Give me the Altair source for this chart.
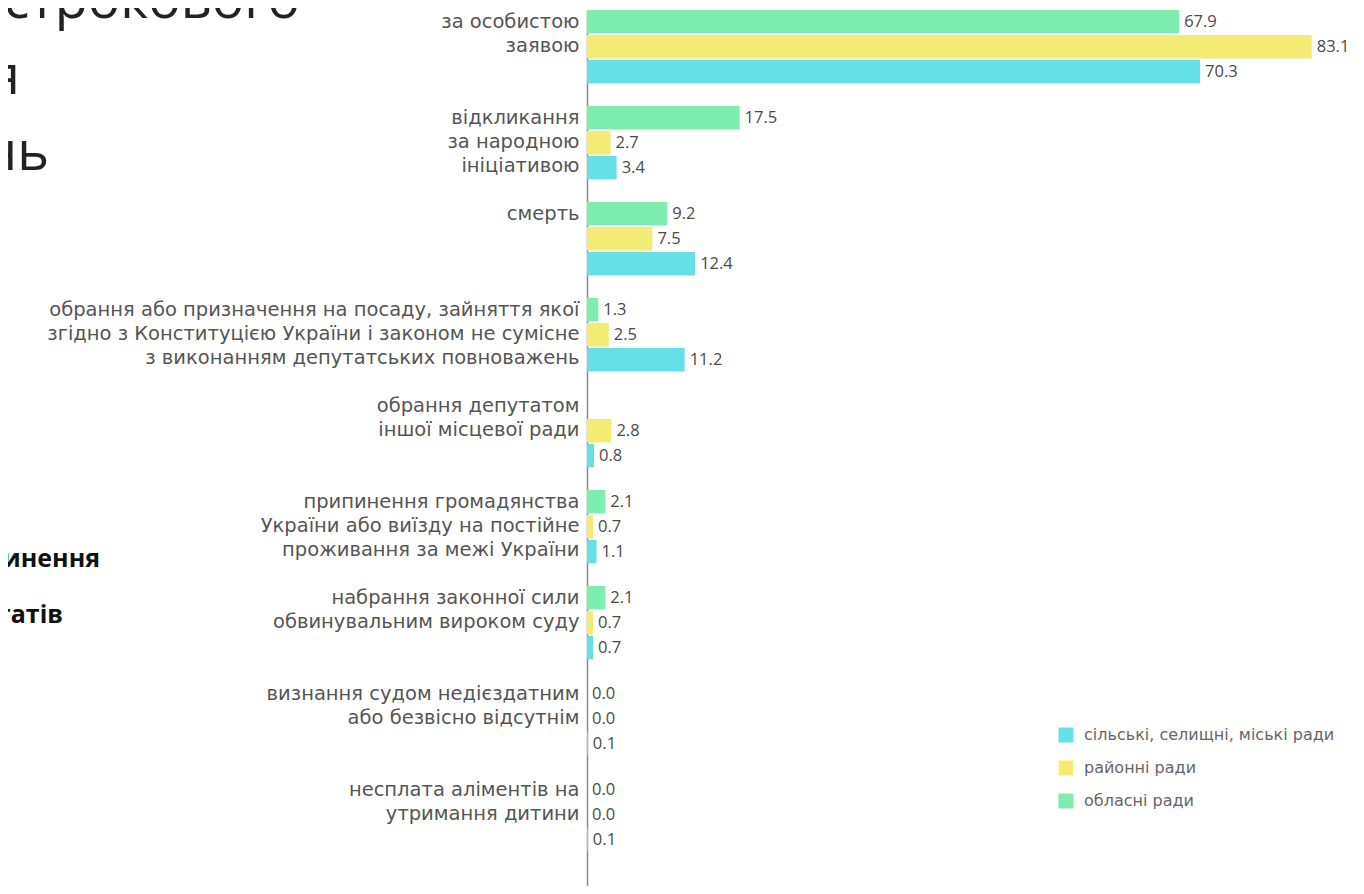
import altair as alt
import pandas as pd

# ---- data ----
groups = [
    "за особистою|заявою",
    "відкликання|за народною|ініціативою",
    "смерть",
    "обрання або призначення на посаду, зайняття якої|згідно з Конституцією України і законом не сумісне|з виконанням депутатських повноважень",
    "обрання депутатом|іншої місцевої ради",
    "припинення громадянства|України або виїзду на постійне|проживання за межі України",
    "набрання законної сили|обвинувальним вироком суду",
    "визнання судом недієздатним|або безвісно відсутнім",
    "несплата аліментів на|утримання дитини",
]
series = ["обласні ради", "районні ради", "сільські, селищні, міські ради"]
oblasni = [67.9, 17.5, 9.2, 1.3, None, 2.1, 2.1, 0.0, 0.0]
raionni = [83.1, 2.7, 7.5, 2.5, 2.8, 0.7, 0.7, 0.0, 0.0]
silski = [70.3, 3.4, 12.4, 11.2, 0.8, 1.1, 0.7, 0.1, 0.1]

legend_order = ["сільські, селищні, міські ради", "районні ради", "обласні ради"]
legend_colors = ["#66E0E8", "#F4EB73", "#7EEDB0"]

slide_title = ["дострокового", "припинення", "повноважень"]
slide_bold = ["припинення", "депутатів"]

rows = []
for g, a, b, c in zip(groups, oblasni, raionni, silski):
    for s, v in zip(series, [a, b, c]):
        rows.append({"group": g, "series": s, "value": v})
df = pd.DataFrame(rows)

y_enc = alt.Y(
    "group:N",
    sort=groups,
    scale=alt.Scale(domain=groups, paddingInner=0.235, paddingOuter=0.18, align=0),
    axis=alt.Axis(
        title=None,
        ticks=False,
        domainColor="#8a8a8a",
        domainWidth=1.5,
        labelPadding=8,
        labelFontSize=19.5,
        labelFont="DejaVu Sans",
        labelColor="#555555",
        labelLimit=1000,
        labelLineHeight=24,
        labelBaseline="top",
        labelOffset=-34,
        labelExpr="split(datum.label, '|')",
    ),
)
yoff_enc = alt.YOffset("series:N", scale=alt.Scale(domain=series, paddingInner=0.06))
x_enc = alt.X("value:Q", scale=alt.Scale(domain=[0, 86.0], nice=False, zero=True), axis=None)

bars = alt.Chart(df).mark_bar().encode(
    y=y_enc,
    yOffset=yoff_enc,
    x=x_enc,
    color=alt.Color(
        "series:N",
        scale=alt.Scale(domain=legend_order, range=legend_colors),
        legend=alt.Legend(
            title=None,
            orient="none",
            legendX=471,
            legendY=717,
            symbolType="square",
            symbolSize=225,
            symbolStrokeWidth=0,
            labelFontSize=16,
            labelFont="DejaVu Sans",
            labelColor="#666666",
            labelOffset=10,
            labelLimit=400,
            rowPadding=17,
        ),
    ),
)

labels = alt.Chart(df).transform_filter("datum.value != null").mark_text(
    align="left", baseline="middle", dx=5, fontSize=16.5, font="Open Sans", color="#4a4a4a"
).encode(
    y=y_enc,
    yOffset=yoff_enc,
    x=x_enc,
    text=alt.Text("value:Q", format=".1f"),
)

title_df = pd.DataFrame({"t": slide_title, "xr": [-287, -567, -538], "yb": [8, 84, 160]})
title_txt = alt.Chart(title_df).mark_text(
    align="right", baseline="alphabetic", fontSize=54, font="Open Sans", color="#222222"
).encode(x=alt.X("xr:Q", scale=None), y=alt.Y("yb:Q", scale=None), text="t:N")

bold_df = pd.DataFrame({"t": slide_bold, "xr": [-487, -524], "yb": [557, 613]})
bold_txt = alt.Chart(bold_df).mark_text(
    align="right", baseline="alphabetic", fontSize=25, font="Open Sans", fontWeight="bold", color="#111111"
).encode(x=alt.X("xr:Q", scale=None), y=alt.Y("yb:Q", scale=None), text="t:N")

chart = alt.layer(bars, labels, title_txt, bold_txt).properties(
    width=750,
    height=876,
    background="white",
    autosize=alt.AutoSizeParams(type="none"),
    padding={"left": 579, "top": 2, "right": 16, "bottom": 0},
).configure_view(stroke=None, strokeWidth=0)

chart.save("out.html", embed_options={"renderer": "svg", "actions": False})
